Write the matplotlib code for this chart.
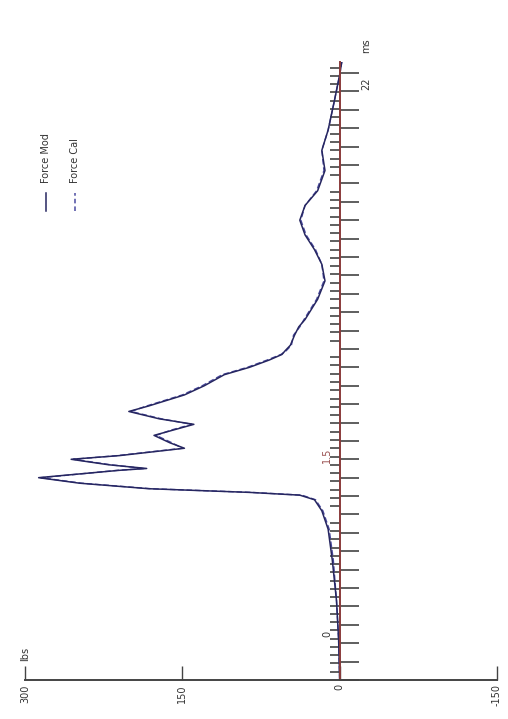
import numpy as np
import matplotlib
matplotlib.use("Agg")
import matplotlib.pyplot as plt
from matplotlib.ticker import MultipleLocator, NullFormatter

# time (ms) and force (lbs)
time_ms = [0.00, 0.22, 0.43, 0.65, 0.82, 0.92, 0.98, 1.005, 1.02, 1.04,
           1.07, 1.10, 1.11, 1.14, 1.15, 1.17, 1.20, 1.22, 1.26, 1.29,
           1.33, 1.36, 1.39, 1.42, 1.46, 1.49, 1.55, 1.60, 1.66, 1.70,
           1.74, 1.77, 1.79, 1.82, 1.875, 1.92, 1.96, 2.07, 2.17, 2.26,
           2.34, 2.42, 2.50, 2.58, 2.66, 2.77, 2.88, 2.99, 3.15, 3.29,
           3.36]
force_mod = [0, 1, 3, 7, 11, 17, 24, 38, 86, 182,
             248, 287, 268, 210, 184, 220, 256, 210, 148, 162,
             177, 158, 139, 172, 201, 182, 148, 129, 110, 86,
             67, 55, 52, 47, 43, 39, 33, 21, 14, 17,
             24, 33, 38, 33, 21, 14, 17, 11, 5, 0,
             -2]
force_cal = [0, 1, 3, 6, 10, 16, 23, 36, 84, 180,
             246, 285, 266, 212, 186, 218, 254, 212, 150, 160,
             175, 160, 141, 170, 199, 184, 150, 131, 112, 88,
             69, 56, 51, 46, 44, 38, 34, 22, 15, 17,
             23, 32, 37, 33, 22, 15, 17, 11, 5, 0,
             -2]

force_ticks = [300, 150, 0, -150]
force_labels = ["300", "150", "0", "-150"]

W, H = 508, 719
fig = plt.figure(figsize=(W / 100, H / 100), dpi=100)
fig.patch.set_facecolor("white")

# axes box in pixel terms: force axis 25..497, time axis 680..62
ax = fig.add_axes([25 / W, (H - 680) / H, (497 - 25) / W, (680 - 62) / H])
ax.set_xlim(300, -150)
ax.set_ylim(0, 3.36)
ax.patch.set_alpha(0)

for side in ["top", "right"]:
    ax.spines[side].set_visible(False)
ax.spines["left"].set_position(("data", 0))
ax.spines["left"].set_color("#8a3b3b")
ax.spines["left"].set_linewidth(1.4)
ax.spines["bottom"].set_color("#444444")
ax.spines["bottom"].set_linewidth(1.4)

# force axis
ax.set_xticks(force_ticks)
ax.set_xticklabels(force_labels, rotation=90, fontsize=7, color="#333333")
ax.tick_params(axis="x", direction="in", length=10, width=1.0,
               color="#444444", pad=3)

# time axis: long ticks to the right, short ones to the left
ax.yaxis.set_major_locator(MultipleLocator(0.1))
ax.yaxis.set_minor_locator(MultipleLocator(0.045))
ax.yaxis.set_major_formatter(NullFormatter())
ax.tick_params(axis="y", which="major", direction="in", length=14,
               width=1.1, color="#333333")
ax.tick_params(axis="y", which="minor", direction="out", length=7,
               width=1.1, color="#333333")

ax.plot(force_cal, time_ms, color="#4a4aa0", lw=1.0, ls=(0, (4, 2)),
        label="Force Cal")
ax.plot(force_mod, time_ms, color="#262660", lw=1.1, label="Force Mod")

# rotated labels
ax.text(300, 0.14, "lbs", rotation=90, fontsize=7, color="#333333",
        ha="center", va="center")
ax.text(12, 0.25, "0", rotation=90, fontsize=7, color="#333333",
        ha="center", va="center")
ax.text(12, 1.22, "1.5", rotation=90, fontsize=7, color="#9a5050",
        ha="center", va="center")
ax.text(-25, 3.24, "22", rotation=90, fontsize=7, color="#333333",
        ha="center", va="center")
ax.text(-25, 3.45, "ms", rotation=90, fontsize=7, color="#333333",
        ha="center", va="center", clip_on=False)

# legend drawn rotated by hand
ax.plot([280, 280], [2.55, 2.65], color="#262660", lw=1.1)
ax.plot([252, 252], [2.55, 2.65], color="#4a4aa0", lw=1.1, ls=(0, (3, 2)))
ax.text(280, 2.70, "Force Mod", rotation=90, fontsize=7, color="#333333",
        ha="center", va="bottom")
ax.text(252, 2.70, "Force Cal", rotation=90, fontsize=7, color="#333333",
        ha="center", va="bottom")

fig.savefig("out.png", dpi=100, facecolor="white")
